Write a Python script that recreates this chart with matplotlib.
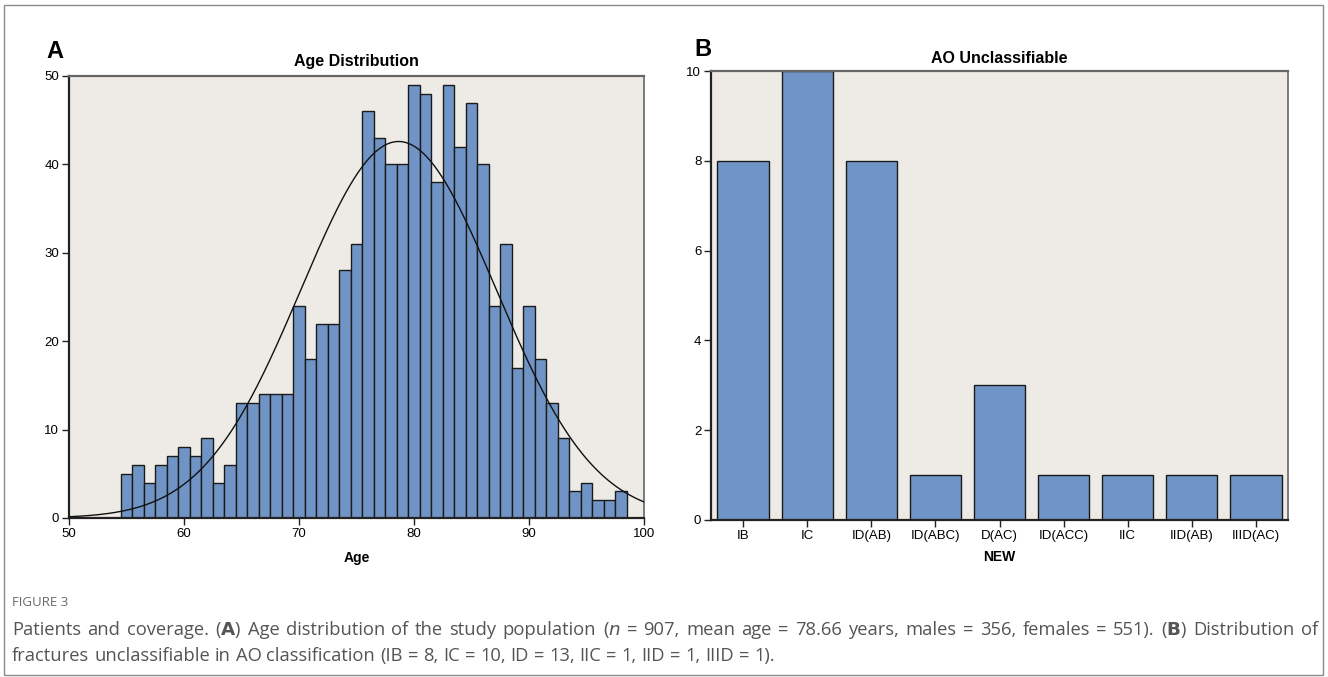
import numpy as np
import matplotlib
matplotlib.use("Agg")
import matplotlib.pyplot as plt
from matplotlib.patches import Rectangle
from matplotlib import font_manager as fm

# ---------------- data ----------------
age_bins = list(range(55, 99))  # bin centres, width 1 year
age_counts = [5, 6, 4, 6, 7, 8, 7, 9, 4, 6,
              13, 13, 14, 14, 14, 24, 18, 22, 22, 28,
              31, 46, 43, 40, 40, 49, 48, 38, 49, 42,
              47, 40, 24, 31, 17, 24, 18, 13, 9, 3,
              4, 2, 2, 3]
age_mean = 78.66
n_total = 907

ao_categories = ["IB", "IC", "ID(AB)", "ID(ABC)", "D(AC)", "ID(ACC)", "IIC", "IID(AB)", "IIID(AC)"]
ao_counts = [8, 10, 8, 1, 3, 1, 1, 1, 1]

caption_line1 = (r"Patients and coverage. ($\bf{A}$) Age distribution of the study population "
                 r"($\it{n}$ = 907, mean age = 78.66 years, males = 356, females = 551). "
                 r"($\bf{B}$) Distribution of")
caption_line2 = ("fractures unclassifiable in AO classification "
                 "(IB = 8, IC = 10, ID = 13, IIC = 1, IID = 1, IIID = 1).")

# ---------------- style ----------------
W, H = 1328, 677
fig = plt.figure(figsize=(W / 100, H / 100), dpi=100)
fig.patch.set_facecolor("white")

BAR = "#7094c5"
BG = "#eeebe6"
EDGE = "#1a1a1a"

available = {f.name for f in fm.fontManager.ttflist}
narrow = "Liberation Sans Narrow" if "Liberation Sans Narrow" in available else "Liberation Sans"
sans = "Liberation Sans"
cap_font = "Open Sans"


def ax_rect(l, t, r, b):
    return [l / W, 1 - b / H, (r - l) / W, (b - t) / H]


# outer frame
fig.add_artist(Rectangle((4 / W, 2 / H), (1323 - 4) / W, (672 - 2) / H, transform=fig.transFigure,
                         fill=False, edgecolor="#8a8a8a", linewidth=1.0))


def style_axes(ax, fam):
    ax.set_facecolor(BG)
    ax.tick_params(axis="both", direction="out", length=5, width=1.0, labelsize=9.5,
                   color="#222222", pad=2)
    for lab in ax.get_xticklabels() + ax.get_yticklabels():
        lab.set_family(fam)
    for s in ("left", "bottom"):
        ax.spines[s].set_color("#222222")
        ax.spines[s].set_linewidth(1.6)
    ax.spines["top"].set_color("#666666")
    ax.spines["top"].set_linewidth(1.6)
    ax.spines["right"].set_color("#666666")
    ax.spines["right"].set_linewidth(1.2)


# ---------------- panel A ----------------
axA = fig.add_axes(ax_rect(69, 76, 644, 518))
axA.bar(age_bins, age_counts, width=1.0, color=BAR, edgecolor=EDGE, linewidth=1.0, zorder=2)

vals = np.repeat(np.array(age_bins, dtype=float), age_counts)
sd = vals.std(ddof=1)
xs = np.linspace(50, 100, 400)
pdf = n_total * 1.0 / (sd * np.sqrt(2 * np.pi)) * np.exp(-0.5 * ((xs - age_mean) / sd) ** 2)
axA.plot(xs, pdf, color="#111111", linewidth=1.0, zorder=3)

axA.set_xlim(50, 100)
axA.set_ylim(0, 50)
axA.set_xticks([50, 60, 70, 80, 90, 100])
axA.set_yticks([0, 10, 20, 30, 40, 50])
style_axes(axA, sans)
axA.set_xlabel("Age", fontsize=10, fontweight="bold", family=sans, labelpad=8)
axA.set_title("Age Distribution", fontsize=11.5, fontweight="bold", family=sans, pad=7)

# ---------------- panel B ----------------
axB = fig.add_axes(ax_rect(711, 71, 1288, 520))
xpos = np.arange(len(ao_categories))
axB.bar(xpos, ao_counts, width=0.8, color=BAR, edgecolor=EDGE, linewidth=1.0, zorder=2)
axB.set_xlim(-0.5, len(ao_categories) - 0.5)
axB.set_ylim(0, 10)
axB.set_yticks([0, 2, 4, 6, 8, 10])
axB.set_xticks(xpos)
axB.set_xticklabels(ao_categories)
style_axes(axB, narrow)
axB.set_xlabel("NEW", fontsize=10, fontweight="bold", family=narrow, labelpad=6)
axB.set_title("AO Unclassifiable", fontsize=11.5, fontweight="bold", family=narrow, pad=6)

# panel letters
fig.text(55 / W, 1 - 51 / H, "A", fontsize=17, fontweight="bold", family=sans, ha="center", va="center")
fig.text(703 / W, 1 - 50 / H, "B", fontsize=17, fontweight="bold", family=sans, ha="center", va="center")

# ---------------- caption ----------------
fig.text(12 / W, 1 - 603 / H, "FIGURE 3", fontsize=9.5, color="#6a6a6a", family=cap_font, va="center")

renderer = fig.canvas.get_renderer()


def justified(line, x0, x1, y, size):
    words = line.split(" ")
    arts = [fig.text(0, 1 - y / H, w, fontsize=size, color="#555555", family=cap_font,
                     va="center") for w in words]
    widths = [a.get_window_extent(renderer).width for a in arts]
    gap = ((x1 - x0) - sum(widths)) / (len(words) - 1)
    x = x0
    for a, w in zip(arts, widths):
        a.set_x(x / W)
        x += w + gap


justified(caption_line1, 12, 1318, 630, 13.2)
justified(caption_line2, 12, 775, 656, 13.2)

fig.savefig("out.png", dpi=100)
